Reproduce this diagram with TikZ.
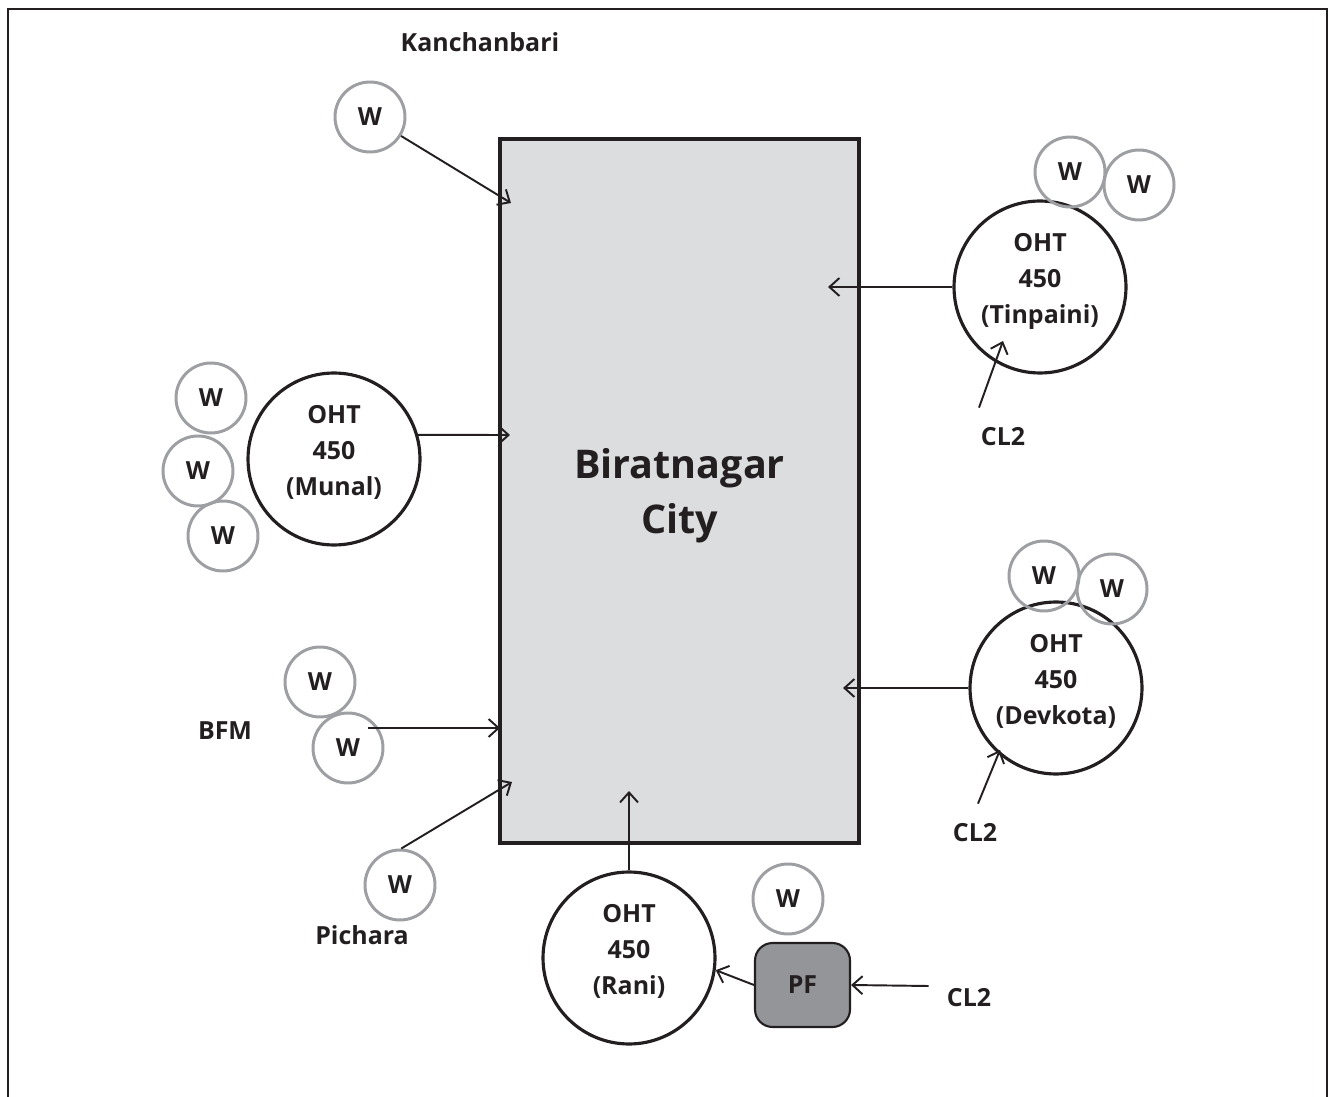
\documentclass[tikz,border=0pt]{standalone}
\usepackage{fontspec}
\setmainfont{Open Sans}
\usetikzlibrary{arrows.meta}
\definecolor{cityfill}{RGB}{220,221,223}
\definecolor{pffill}{RGB}{147,149,152}
\definecolor{wgray}{RGB}{158,159,162}
\definecolor{ink}{RGB}{35,31,32}

\begin{document}
\begin{tikzpicture}[x=0.02cm, y=-0.02cm, >={Straight Barb[length=2mm,width=3.6mm]},
    every node/.style={align=center, text=ink, font=\bfseries\fontsize{14.2}{20.4}\selectfont},
    well/.style={circle, draw=wgray, line width=1.7pt, minimum size=1.4cm, inner sep=0pt},
    tank/.style={circle, draw=ink, line width=1.8pt, minimum size=3.44cm, inner sep=0pt, text depth=10pt},
    flow/.style={->, line width=1.1pt, draw=ink}]
    \useasboundingbox (0,0) rectangle (1335,1097);
    \draw[ink, line width=1.1pt] (8,1097) -- (8,9) -- (1327,9) -- (1327,1097);

    % city block
    \node[draw=ink, fill=cityfill, line width=2.5pt, minimum width=7.18cm, minimum height=14.08cm,
      text height=53.5pt, font=\bfseries\fontsize{22.5}{31}\selectfont] (city) at (679.5,491) {Biratnagar\\City};

    % tanks
    \node[tank] (munal) at (334,459) {OHT\\450\\(Munal)};
    \node[tank] (tinpaini) at (1040,287) {OHT\\450\\(Tinpaini)};
    \node[tank] (devkota) at (1056,688) {OHT\\450\\(Devkota)};
    \node[tank] (rani) at (629,958) {OHT\\450\\(Rani)};
    \node[draw=ink, fill=pffill, line width=1.2pt, rounded corners=10pt,
      minimum width=1.9cm, minimum height=1.68cm] (pf) at (802.5,985) {PF};

    % wells
    \node[well] (wkan) at (370,117) {W};
    \node[well] (wtin1) at (1070,172) {W};
    \node[well] (wtin2) at (1139,185) {W};
    \node[well] (wmun1) at (211,398) {W};
    \node[well] (wmun2) at (198,471) {W};
    \node[well] (wmun3) at (223,536) {W};
    \node[well] (wdev1) at (1044,576) {W};
    \node[well] (wdev2) at (1112,589) {W};
    \node[well] (wbfm1) at (320,682) {W};
    \node[well] (wbfm2) at (348,748) {W};
    \node[well] (wpic) at (400,885) {W};
    \node[well] (wpf) at (788,899) {W};

    % place names
    \node (kanchanbari) at (480,42) {Kanchanbari};
    \node (bfm) at (225,731) {BFM};
    \node (pichara) at (362,935) {Pichara};
    \node (cltin) at (1003,437) {CL2};
    \node (cldev) at (975,833) {CL2};
    \node (clpf) at (969,998) {CL2};

    % arrow ends in the city
    \coordinate (inkan) at (511,203);
    \coordinate (inmun) at (510,435);
    \coordinate (inbfm) at (500,728);
    \coordinate (inpic) at (512,782);
    \coordinate (inrani) at (629,791);
    \coordinate (intin) at (828,287);
    \coordinate (indev) at (843,688);
    \coordinate (cltinend) at (1003,341);
    \coordinate (cldevend) at (1000,750);

    \draw[flow] (wkan) -- (inkan);
    \draw[flow] (munal.16) -- (inmun);
    \draw[flow] ([shift={(20,-20)}]wbfm2.center) -- (inbfm);
    \draw[flow] (wpic.88) -- (inpic);
    \draw[flow] (rani.north) -- (inrani);
    \draw[flow] (tinpaini.west) -- (intin);
    \draw[flow] (devkota.west) -- (indev);
    \draw[flow] ([shift={(-24,-14)}]cltin.north) -- (cltinend);
    \draw[flow] ([shift={(3,-14)}]cldev.north) -- (cldevend);
    \draw[flow] (pf.west) -- (rani.-8);
    \draw[flow] ([shift={(-12,-12)}]clpf.west) -- (pf.east);
\end{tikzpicture}
\end{document}
